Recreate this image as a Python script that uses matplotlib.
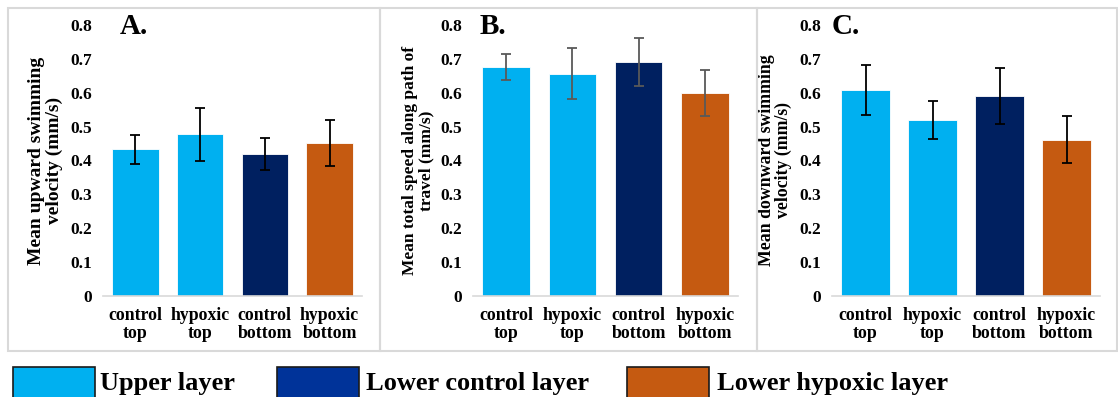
import matplotlib
matplotlib.use("Agg")
import matplotlib.pyplot as plt
from matplotlib.patches import Rectangle

plt.rcParams["font.family"] = ["Liberation Serif", "DejaVu Serif"]
plt.rcParams["font.weight"] = "bold"

# ---------------------------------------------------------------------------
# Dados
# ---------------------------------------------------------------------------
categorias = ["control\ntop", "hypoxic\ntop", "control\nbottom", "hypoxic\nbottom"]

media_subida = [0.433, 0.477, 0.419, 0.452]
erro_subida = [0.043, 0.079, 0.046, 0.067]

media_total = [0.676, 0.656, 0.691, 0.599]
erro_total = [0.038, 0.075, 0.071, 0.067]

media_descida = [0.609, 0.520, 0.590, 0.461]
erro_descida = [0.074, 0.057, 0.083, 0.069]

rotulos_y = [
    "Mean upward swimming\nvelocity (mm/s)",
    "Mean total speed along path of\ntravel (mm/s)",
    "Mean downward swimming\nvelocity (mm/s)",
]
letras = ["A.", "B.", "C."]
yticks = [0, 0.1, 0.2, 0.3, 0.4, 0.5, 0.6, 0.7, 0.8]
ytick_labels = ["0", "0.1", "0.2", "0.3", "0.4", "0.5", "0.6", "0.7", "0.8"]

legenda = ["Upper layer", "Lower control layer", "Lower hypoxic layer"]

AZUL_CLARO = "#00B0F0"
AZUL_ESCURO = "#002060"
LARANJA = "#C55A11"
cores_barras = [AZUL_CLARO, AZUL_CLARO, AZUL_ESCURO, LARANJA]
cores_legenda = [AZUL_CLARO, "#003399", LARANJA]

W, H = 1118, 397


def _eixo_px(fig, esq, dir, base, topo):
    """Cria um eixo a partir de coordenadas em pixels (origem no topo)."""
    return fig.add_axes([esq / W, 1 - base / H, (dir - esq) / W, (base - topo) / H])


fig = plt.figure(figsize=(W / 100, H / 100), dpi=100)

# molduras cinza de cada painel
for x0, x1 in [(8, 380), (380, 757), (757, 1117)]:
    fig.patches.append(Rectangle((x0 / W, 1 - 351 / H), (x1 - x0) / W, (351 - 8) / H,
                                 transform=fig.transFigure, fill=False,
                                 edgecolor="#D9D9D9", linewidth=1.5))

paineis = [
    # (limites px, medias, erros, cor do erro, x do rotulo y, tamanho do rotulo y, x da letra)
    ((103, 362), media_subida, erro_subida, "black", -0.222, 14, 120),
    ((473, 738), media_total, erro_total, "#595959", -0.206, 12.5, 480),
    ((832, 1100), media_descida, erro_descida, "black", -0.212, 12.8, 832),
]

for i, (lim, medias, erros, cor_erro, xlab, tam_lab, x_letra) in enumerate(paineis):
    ax = _eixo_px(fig, lim[0], lim[1], 296, 25)
    x = list(range(len(categorias)))
    ax.bar(x, medias, 0.72, color=cores_barras, edgecolor="white", linewidth=0.6,
           yerr=erros, capsize=3.5,
           error_kw={"ecolor": cor_erro, "elinewidth": 1.3, "capthick": 1.3})
    ax.set_xlim(-0.5, 3.5)
    ax.set_ylim(0, 0.8)
    ax.set_yticks(yticks)
    ax.set_yticklabels(ytick_labels, fontsize=12.5, fontweight="bold")
    ax.set_xticks(x)
    ax.set_xticklabels(categorias, fontsize=12.8, fontweight="bold", linespacing=1.1)
    ax.tick_params(axis="both", length=0)
    ax.tick_params(axis="y", pad=8)
    ax.tick_params(axis="x", pad=8)
    for lado in ["top", "right", "left"]:
        ax.spines[lado].set_visible(False)
    ax.spines["bottom"].set_color("#D9D9D9")
    ax.spines["bottom"].set_linewidth(1.2)
    ax.set_ylabel(rotulos_y[i], fontsize=tam_lab, fontweight="bold", va="center",
                  linespacing=1.0)
    ax.yaxis.set_label_coords(xlab, 0.5)
    fig.text(x_letra / W, 1 - 34 / H, letras[i], fontsize=21, fontweight="bold",
             ha="left", va="baseline")

# legenda manual na base da figura
for (bx, tx), cor, texto in zip([(13, 100), (277, 366), (627, 717)], cores_legenda, legenda):
    fig.patches.append(Rectangle((bx / W, -0.02), 82 / W, (H - 367) / H + 0.02,
                                 transform=fig.transFigure, facecolor=cor,
                                 edgecolor="#1A1A1A", linewidth=1.2))
    fig.text(tx / W, 1 - 390 / H, texto, fontsize=19, fontweight="bold",
             ha="left", va="baseline")

fig.savefig("out.png", dpi=100)
